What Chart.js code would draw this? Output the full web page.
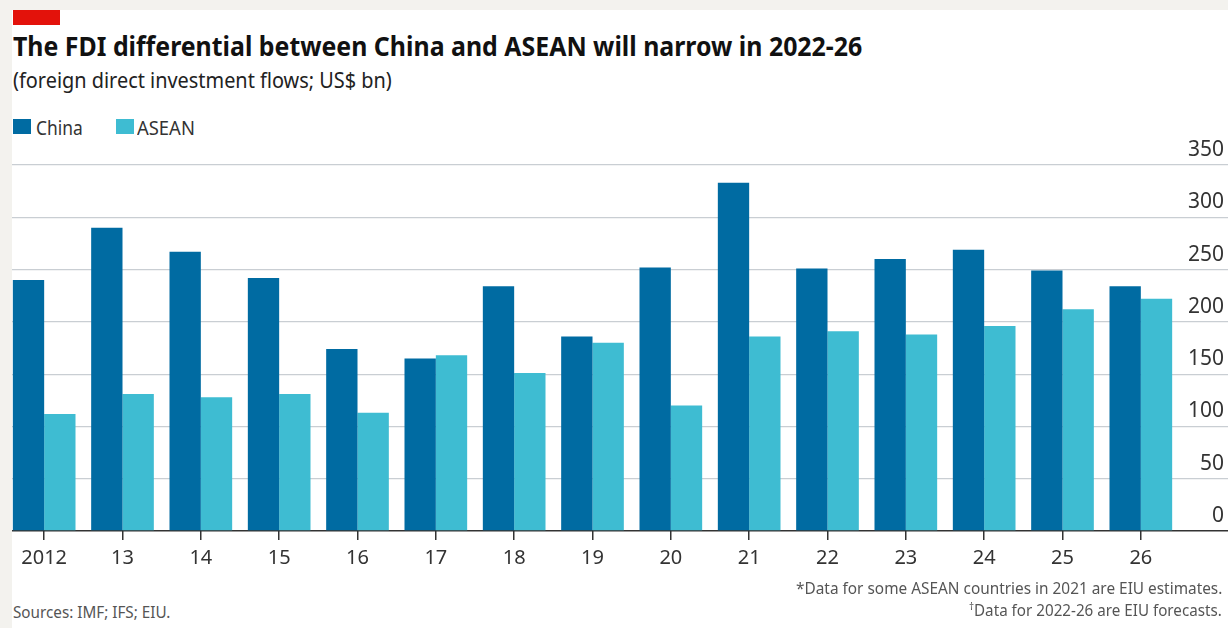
<!DOCTYPE html>
<html>
<head>
<meta charset="utf-8">
<script src="https://cdn.jsdelivr.net/npm/chart.js@4.4.0/dist/chart.umd.min.js"></script>
<style>
  html, body { margin: 0; padding: 0; }
  body {
    width: 1228px; height: 628px; overflow: hidden;
    background: #f3f2ee;
    font-family: "Noto Sans", "Open Sans", sans-serif;
    position: relative;
  }
  #card {
    position: absolute; left: 12px; top: 10px; right: 0; bottom: 0;
    background: #fff; overflow: hidden;
  }
  .txt { position: absolute; white-space: nowrap; line-height: 1; display: inline-block; }
  #redbar { position: absolute; left: 1px; top: 0; width: 47px; height: 15px; background: #e3120b; }
  #title { left: 1px; top: 23px; font-size: 26px; font-weight: 700; color: #111; transform-origin: left center; }
  #subtitle { left: 1px; top: 60px; font-size: 21px; color: #222; transform-origin: left center; }
  .key { position: absolute; top: 109px; width: 18px; height: 15px; }
  #keyChina { left: 1px; background: #006ba2; }
  #keyAsean { left: 104px; background: #3ebcd2; }
  .keytxt { top: 108px; font-size: 20px; color: #333; transform-origin: left center; }
  #sources { left: 1px; top: 593px; font-size: 17px; color: #555; transform-origin: left center; }
  .note { right: 6px; font-size: 17px; color: #555; transform-origin: right center; }
  #note1 { top: 569px; }
  #note2 { top: 590px; }
  #note2 sup { font-size: 11px; vertical-align: 6px; }
  canvas { position: absolute; left: -7px; top: 130px; }
</style>
</head>
<body>
<div id="card">
  <div id="redbar"></div>
  <div class="txt" id="title" data-w="849">The FDI differential between China and ASEAN will narrow in 2022-26</div>
  <div class="txt" id="subtitle" data-w="379">(foreign direct investment flows; US$ bn)</div>
  <div class="key" id="keyChina"></div>
  <div class="txt keytxt" style="left:24px" data-w="47">China</div>
  <div class="key" id="keyAsean"></div>
  <div class="txt keytxt" style="left:125px" data-w="58">ASEAN</div>
  <canvas id="chart" width="1223" height="439"></canvas>
  <div class="txt" id="sources" data-w="157">Sources: IMF; IFS; EIU.</div>
  <div class="txt note" id="note1" data-w="426">*Data for some ASEAN countries in 2021 are EIU estimates.</div>
  <div class="txt note" id="note2" data-w="253"><sup>†</sup>Data for 2022-26 are EIU forecasts.</div>
</div>
<script>
// FDI flows, US$ bn
const years = ["2012", "13", "14", "15", "16", "17", "18", "19", "20", "21", "22", "23", "24", "25", "26"];
const china = [240, 290, 267, 242, 174, 165, 234, 186, 252, 333, 251, 260, 269, 249, 234];
const asean = [112, 131, 128, 131, 113, 168, 151, 180, 120, 186, 191, 188, 196, 212, 222];
const yMax = 350;
const yStep = 50;

// squeeze the html text to the widths of the condensed house font
document.querySelectorAll("[data-w]").forEach((el) => {
  const w = +el.dataset.w;
  el.style.transform = `scaleX(${w / el.offsetWidth})`;
});

const tickFont = { family: "'Noto Sans', sans-serif", size: 21 };

new Chart(document.getElementById("chart"), {
  type: "bar",
  data: {
    labels: years,
    datasets: [
      { label: "China", data: china, backgroundColor: "#006ba2", borderWidth: 0 },
      { label: "ASEAN", data: asean, backgroundColor: "#3ebcd2", borderWidth: 0 },
    ],
  },
  options: {
    responsive: false,
    animation: false,
    devicePixelRatio: 1,
    layout: { padding: { top: 25, right: 4, bottom: 0, left: 0 } },
    datasets: { bar: { barPercentage: 1, categoryPercentage: 0.8 } },
    plugins: { legend: { display: false }, tooltip: { enabled: false } },
    scales: {
      x: {
        border: { display: false },
        grid: {
          offset: false,
          drawOnChartArea: false,
          drawTicks: true,
          tickLength: 9,
          color: "#333",
          lineWidth: 1.5,
        },
        ticks: {
          font: { ...tickFont, size: 20 },
          color: "#333",
          padding: 6,
          maxRotation: 0,
          autoSkip: false,
        },
        afterFit: (scale) => { scale.height = 48; },
      },
      y: {
        position: "right",
        min: 0,
        max: yMax,
        border: { display: false },
        grid: {
          drawTicks: true,
          // gridlines run on under the labels to the edge
          tickLength: 48,
          // the zero line doubles as the x axis
          color: (ctx) => (ctx.tick && ctx.tick.value === 0 ? "#333" : "#c9ced3"),
          lineWidth: (ctx) => (ctx.tick && ctx.tick.value === 0 ? 1.6 : 1.2),
        },
        ticks: {
          stepSize: yStep,
          font: tickFont,
          color: "#333",
          crossAlign: "far",
          labelOffset: -15,
        },
        afterFit: (scale) => { scale.width = 44; },
      },
    },
  },
});
</script>
</body>
</html>
